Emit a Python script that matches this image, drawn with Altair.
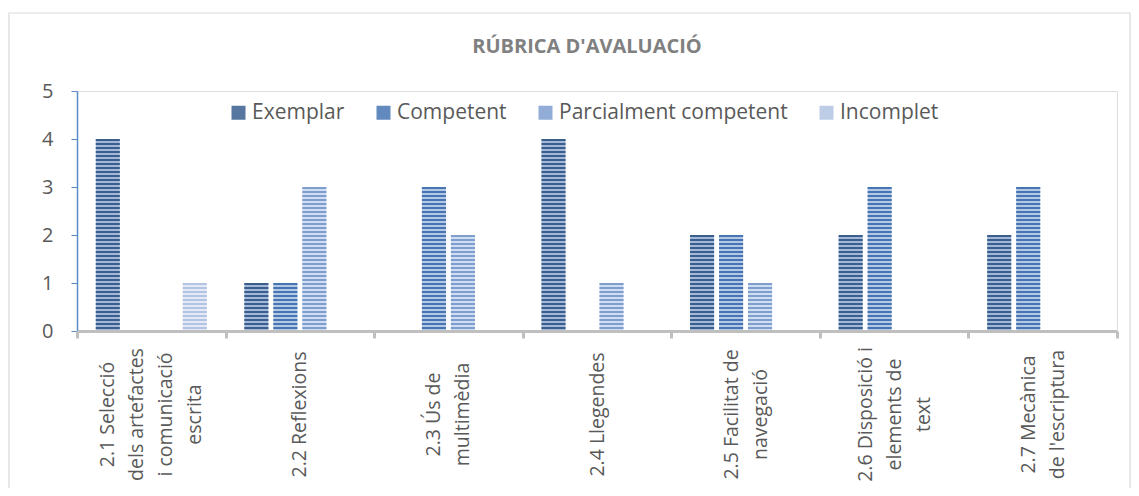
import altair as alt
import pandas as pd

categories = [
    "2.1 Selecció\ndels artefactes\ni comunicació\nescrita",
    "2.2 Reflexions",
    "2.3 Ús de\nmultimèdia",
    "2.4 Llegendes",
    "2.5 Facilitat de\nnavegació",
    "2.6 Disposició i\nelements de\ntext",
    "2.7 Mecànica\nde l'escriptura",
]
series = ["Exemplar", "Competent", "Parcialment competent", "Incomplet"]
exemplar = [4, 1, 0, 4, 2, 2, 2]
competent = [0, 1, 3, 0, 2, 3, 3]
parcial = [0, 3, 2, 1, 1, 0, 0]
incomplet = [1, 0, 0, 0, 0, 0, 0]

light_colors = ["#a3b8d6", "#b4c8e6", "#d0dcef", "#e4eaf5"]
dark_colors = ["#3a5f8f", "#4675b3", "#7e9ecf", "#b3c4e2"]

values_by_series = [exemplar, competent, parcial, incomplet]

bar_rows = []
stripe_rows = []
stripes_per_unit = 12
for s_i, s in enumerate(series):
    for c_i, c in enumerate(categories):
        v = values_by_series[s_i][c_i]
        if v <= 0:
            continue
        bar_rows.append({"cat": c, "series": s, "value": v, "light": light_colors[s_i]})
        n = int(round(v * stripes_per_unit))
        for k in range(n):
            top = v - k / stripes_per_unit
            stripe_rows.append({"cat": c, "series": s,
                                "y0": top - 0.5 / stripes_per_unit, "y1": top})

bars_df = pd.DataFrame(bar_rows)
stripes_df = pd.DataFrame(stripe_rows)

FONT = "Open Sans"
LINE_H = 29

n_lines = "length(split(datum.value, '\\n'))"
label_offset = {
    "condition": [
        {"test": f"{n_lines} == 4", "value": -1.5 * LINE_H},
        {"test": f"{n_lines} == 3", "value": -1.0 * LINE_H},
        {"test": f"{n_lines} == 2", "value": -0.5 * LINE_H},
    ],
    "value": 0,
}

x_enc = alt.X(
    "cat:N", sort=categories,
    scale=alt.Scale(domain=categories, paddingInner=0, paddingOuter=0),
    axis=alt.Axis(
        title=None, domainColor="#bfbfbf", domainWidth=3,
        tickColor="#bfbfbf", tickWidth=3, tickSize=7, tickBand="extent",
        labelAngle=270, labelAlign="center", labelBaseline="middle",
        labelFont=FONT, labelFontSize=19.5, labelColor="#595959",
        labelLineHeight=LINE_H, labelPadding=76, labelOffset=label_offset,
        labelExpr="split(datum.label, '\\n')",
        labelBound=False, labelOverlap=False, labelFlush=False, labelLimit=400,
        zindex=1,
    ),
)
xo_enc = alt.XOffset(
    "series:N", sort=series,
    scale=alt.Scale(domain=series, paddingInner=0.17, paddingOuter=0.647),
)
y_scale = alt.Scale(domain=[0, 5], nice=False)
y_axis = alt.Axis(
    title=None, values=[0, 1, 2, 3, 4, 5], format="d", grid=False,
    domainColor="#5b8bc6", domainWidth=1.5, tickColor="#5b8bc6", tickSize=6,
    labelFont=FONT, labelFontSize=20, labelColor="#595959", labelPadding=18,
)

border = alt.Chart(pd.DataFrame({"a": [0]})).mark_rect(
    fillOpacity=0, stroke="#d9d9d9", strokeWidth=1.2
).encode(
    x=alt.value(-68), x2=alt.value(1053), y=alt.value(-78), y2=alt.value(420)
)

bars = alt.Chart(bars_df).mark_rect().encode(
    x=x_enc,
    xOffset=xo_enc,
    y=alt.Y("value:Q", scale=y_scale, axis=y_axis),
    y2=alt.datum(0),
    fill=alt.Fill("light:N", scale=None),
)

stripes = alt.Chart(stripes_df).mark_rect().encode(
    x=x_enc,
    xOffset=xo_enc,
    y=alt.Y("y0:Q", scale=y_scale, axis=y_axis),
    y2="y1:Q",
    color=alt.Color(
        "series:N", sort=series,
        scale=alt.Scale(domain=series, range=dark_colors),
        legend=alt.Legend(
            title=None, orient="none", legendX=151, legendY=11,
            direction="horizontal", symbolType="square", symbolSize=196,
            symbolStrokeWidth=0, symbolOpacity=0.85,
            labelFont=FONT, labelFontSize=21, labelColor="#595959",
            labelOffset=3, columnPadding=28, labelLimit=400, padding=0,
        ),
    ),
)

chart = alt.layer(border, bars, stripes).properties(
    width=1040, height=240,
    autosize=alt.AutoSizeParams(type="none"),
    padding={"left": 69, "top": 83, "right": 14, "bottom": 157},
    title=alt.TitleParams(
        "RÚBRICA D'AVALUACIÓ", font=FONT, fontSize=20, fontWeight="bold",
        color="#808080", anchor="middle", offset=-60.5, baseline="alphabetic",
        dx=-10, frame="group",
    ),
).configure_view(strokeWidth=0).configure(font=FONT)

chart.save("out.html", embed_options={"renderer": "svg", "actions": False})
